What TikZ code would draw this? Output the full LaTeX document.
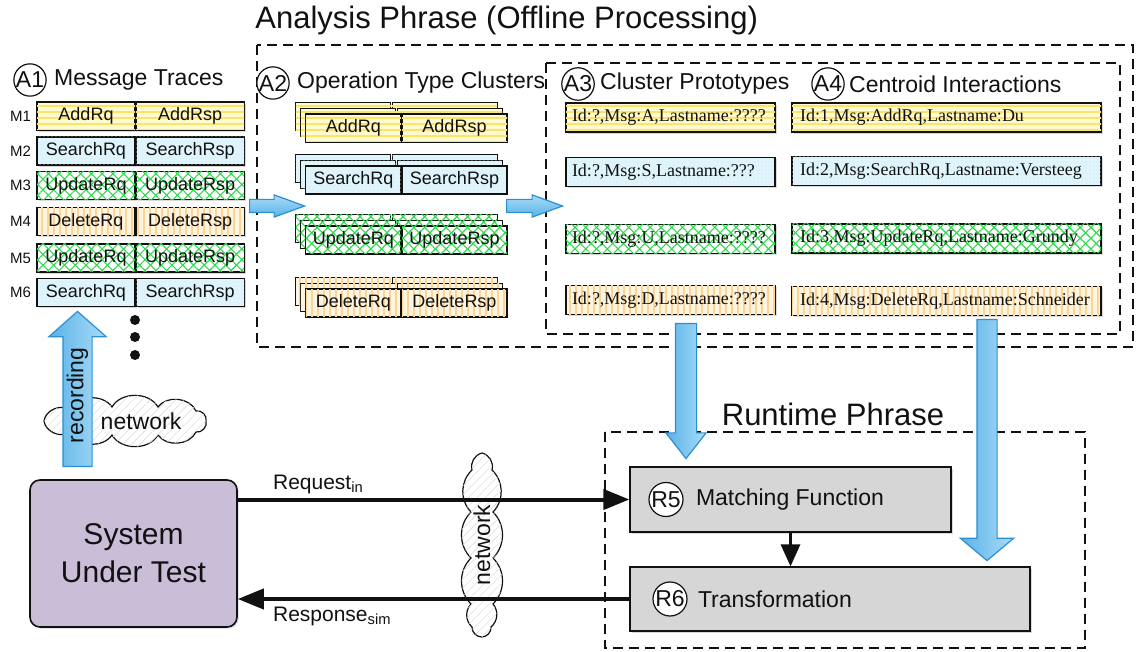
\documentclass[tikz,border=0pt]{standalone}
\usepackage{fontspec}
\setmainfont{Liberation Sans}
\newfontfamily\protofont{Liberation Serif}
\usetikzlibrary{arrows.meta,calc,positioning,shapes.arrows,shadows,patterns.meta}
\definecolor{ink}{HTML}{111111}
\definecolor{yelfill}{HTML}{FFFAD0}
\definecolor{yelline}{HTML}{F9E46E}
\definecolor{bluefill}{HTML}{DCF3FB}
\definecolor{greenline}{HTML}{2ED94C}
\definecolor{orangefill}{HTML}{FFF4E0}
\definecolor{orangeline}{HTML}{F9D596}
\definecolor{procfill}{HTML}{D6D6D6}
\definecolor{sutfill}{HTML}{C9BDD7}
\definecolor{fatlight}{HTML}{A9DCF7}
\definecolor{fatdark}{HTML}{5AB2E8}
\definecolor{fatline}{HTML}{2E8ED2}
\newcommand{\bigsize}{\fontsize{15.5}{18}\selectfont}
\newcommand{\headsize}{\fontsize{11.5}{13.5}\selectfont}
\newcommand{\cellsize}{\fontsize{9}{10.5}\selectfont}
\newcommand{\rowsize}{\fontsize{7.5}{9}\selectfont}
\newcommand{\protosize}{\protofont\fontsize{9}{10.5}\selectfont}
\newcommand{\sutsize}{\fontsize{15}{19}\selectfont}
\tikzset{
 every node/.append style={text=ink,align=center},
 phase/.style={draw=ink,line width=1pt,dash pattern=on 5pt off 3pt},
 head/.style={font=\headsize,inner sep=1pt},
 tag/.style={circle,draw=ink,line width=.6pt,fill=white,inner sep=0pt,minimum size=15pt,font=\headsize},
 rtag/.style={tag,minimum size=17pt},
 rowtag/.style={font=\rowsize,inner sep=1pt},
 lifted/.style={drop shadow={opacity=.3,shadow xshift=.8pt,shadow yshift=-.8pt}},
 cell/.style={draw=ink,line width=.6pt,minimum height=14pt,inner sep=0pt,font=\cellsize},
 row/.style={cell,lifted},
 stack/.style={copy shadow={shadow xshift=-5pt,shadow yshift=5.5pt,draw=ink,line width=.5pt,#1},
               copy shadow={shadow xshift=-2.5pt,shadow yshift=2.75pt,draw=ink,line width=.5pt,#1}},
 yel/.style={fill=yelfill,postaction={pattern={Lines[angle=0,distance=3pt,line width=1.2pt]},pattern color=yelline}},
 blu/.style={fill=bluefill,postaction={pattern={Dots[distance=2pt,radius=.35pt]},pattern color=white}},
 grn/.style={fill=white,postaction={pattern={Lines[angle=45,distance=3.8pt,line width=.55pt]},pattern color=greenline},
   postaction={pattern={Lines[angle=-45,distance=3.8pt,line width=.55pt]},pattern color=greenline}},
 org/.style={fill=orangefill,postaction={pattern={Lines[angle=90,distance=3pt,line width=1.2pt]},pattern color=orangeline}},
 proto/.style={cell,lifted,font=\protosize,minimum height=14.5pt,inner xsep=3pt,align=left,text width=98.5pt},
 centroid/.style={proto,inner xsep=4pt,text width=146.5pt},
 dot/.style={circle,fill=ink,inner sep=0pt,minimum size=5pt},
 fat/.style={single arrow,draw=fatline,line width=.6pt,single arrow head indent=0pt,anchor=tail,minimum width=0pt},
 cloudy/.style={draw=ink,line width=.6pt,fill=white,
   postaction={pattern={Lines[angle=45,distance=3pt,line width=.3pt]},pattern color=black!12}},
 sut/.style={draw=ink,line width=.8pt,fill=sutfill,rounded corners=5pt,font=\sutsize,lifted},
 proc/.style={draw=ink,line width=.6pt,fill=procfill,lifted},
 lbl/.style={font=\fontsize{10.5}{12}\selectfont,inner sep=1pt},
 flow/.style={-{Triangle[length=13pt,width=10pt]},draw=ink,line width=2pt},
 handoff/.style={-{Triangle[length=11pt,width=9.5pt]},draw=ink,line width=1.5pt},
}

\begin{document}
\begin{tikzpicture}[x=.5pt,y=-.5pt]
\useasboundingbox (0,0) rectangle (1136,652);

% phase frames
\draw[phase] (257,45) rectangle (1133,347);
\draw[phase] (546,63) rectangle (1120,334);
\draw[phase] (605,432) rectangle (1085,648);
\node[font=\bigsize,anchor=base west,inner sep=0pt] (offline) at (255,29) {Analysis Phrase (Offline Processing)};
\node[font=\bigsize,anchor=base,inner sep=0pt] (online) at (833,425) {Runtime Phrase};

% A1 message traces
\node[tag] (a1) at (30,80) {A1};
\node[head,right=2.5pt of a1] (traces) {Message Traces};
\node[row,yel,minimum width=49pt] (m1rq) at (86,116) {AddRq};
\node[row,yel,minimum width=54pt,right=0pt of m1rq] (m1rs) {AddRsp};
\node[rowtag,left=1.5pt of m1rq] (m1) {M1};
\node[row,blu,minimum width=49pt] (m2rq) at (86,151) {SearchRq};
\node[row,blu,minimum width=54pt,right=0pt of m2rq] (m2rs) {SearchRsp};
\node[rowtag,left=1.5pt of m2rq] (m2) {M2};
\node[row,grn,minimum width=49pt] (m3rq) at (86,185.5) {UpdateRq};
\node[row,grn,minimum width=54pt,right=0pt of m3rq] (m3rs) {UpdateRsp};
\node[rowtag,left=1.5pt of m3rq] (m3) {M3};
\node[row,org,minimum width=49pt] (m4rq) at (86,221.5) {DeleteRq};
\node[row,org,minimum width=54pt,right=0pt of m4rq] (m4rs) {DeleteRsp};
\node[rowtag,left=1.5pt of m4rq] (m4) {M4};
\node[row,grn,minimum width=49pt] (m5rq) at (86,258) {UpdateRq};
\node[row,grn,minimum width=54pt,right=0pt of m5rq] (m5rs) {UpdateRsp};
\node[rowtag,left=1.5pt of m5rq] (m5) {M5};
\node[row,blu,minimum width=49pt] (m6rq) at (86,292.5) {SearchRq};
\node[row,blu,minimum width=54pt,right=0pt of m6rq] (m6rs) {SearchRsp};
\node[rowtag,left=1.5pt of m6rq] (m6) {M6};
\node[dot] (more1) at (135,320) {};
\node[dot] (more2) at (135,337) {};
\node[dot] (more3) at (135,355) {};

% A2 operation type clusters
\node[tag] (a2) at (273,83) {A2};
\node[head,right=2.5pt of a2] (clusters) {Operation Type Clusters};
\node[cell,yel,stack={yel},minimum width=52.5pt] (c1rs) at (454.5,128) {AddRsp};
\node[cell,yel,stack={yel},minimum width=47.5pt,left=0pt of c1rs] (c1rq) {AddRq};
\node[cell,blu,stack={blu},minimum width=52.5pt] (c2rs) at (454.5,180) {SearchRsp};
\node[cell,blu,stack={blu},minimum width=47.5pt,left=0pt of c2rs] (c2rq) {SearchRq};
\node[cell,grn,stack={grn},minimum width=52.5pt] (c3rs) at (454.5,240) {UpdateRsp};
\node[cell,grn,stack={grn},minimum width=47.5pt,left=0pt of c3rs] (c3rq) {UpdateRq};
\node[cell,org,stack={org},minimum width=52.5pt] (c4rs) at (454.5,303) {DeleteRsp};
\node[cell,org,stack={org},minimum width=47.5pt,left=0pt of c4rs] (c4rq) {DeleteRq};

% A3 cluster prototypes, A4 centroid interactions
\node[tag] (a3) at (578,84) {A3};
\node[head,right=1.5pt of a3] (protos) {Cluster Prototypes};
\node[tag] (a4) at (828,84) {A4};
\node[head,right=1pt of a4] (centroids) {Centroid Interactions};
\node[proto,yel] (p1) at (670.5,117.5) {Id:?,Msg:A,Lastname:????};
\node[proto,blu] (p2) at (670.5,172) {Id:?,Msg:S,Lastname:???};
\node[proto,grn] (p3) at (670.5,239) {Id:?,Msg:U,Lastname:????};
\node[proto,org] (p4) at (670.5,300) {Id:?,Msg:D,Lastname:????};
\node[centroid,yel] (i1) at (946.5,117.5) {Id:1,Msg:AddRq,Lastname:Du};
\node[centroid,blu] (i2) at (946.5,171) {Id:2,Msg:SearchRq,Lastname:Versteeg};
\node[centroid,grn] (i3) at (946.5,238.5) {Id:3,Msg:UpdateRq,Lastname:Grundy};
\node[centroid,org] (i4) at (946.5,301) {Id:4,Msg:DeleteRq,Lastname:Schneider};

% network clouds
\draw[cloudy] (44,421) to[bend left=60] (70,410) to[bend left=60] (112,407) to[bend left=60] (158,407)
  to[bend left=60] (196,411) to[bend left=60] (206,421) to[bend left=60] (196,432) to[bend left=60] (158,435)
  to[bend left=60] (112,435) to[bend left=60] (70,432) to[bend left=60] (44,421) -- cycle;
\node[head] (net1) at (141,421) {network};
\draw[cloudy] (482,453) to[bend left=45] (492,470) to[bend left=45] (493,512) to[bend left=45] (493,558)
  to[bend left=45] (493,604) to[bend left=45] (491,627) to[bend left=45] (482,637) to[bend left=45] (472,627)
  to[bend left=45] (471,604) to[bend left=45] (471,558) to[bend left=45] (471,512) to[bend left=45] (472,470)
  to[bend left=45] (482,453) -- cycle;
\node[head,rotate=90] (net2) at (482,545) {network};

% fat arrows
\node[fat,top color=fatlight,bottom color=fatdark,inner sep=3pt,single arrow head extend=2.25pt,
  single arrow tip angle=40,minimum height=27.5pt] (toclust) at (249,206) {};
\node[fat,top color=fatlight,bottom color=fatdark,inner sep=3pt,single arrow head extend=2.25pt,
  single arrow tip angle=40,minimum height=28pt] (toproto) at (506,206) {};
\node[fat,rotate=90,left color=fatdark,right color=fatlight,font=\headsize,text height=8pt,text depth=2.2pt,
  inner xsep=0pt,inner ysep=1.9pt,single arrow head extend=7pt,single arrow tip angle=97,minimum height=77.5pt] (rec) at (77.5,467) {recording};
\node[fat,rotate=-90,left color=fatdark,right color=fatlight,inner sep=5pt,single arrow head extend=4.75pt,
  single arrow tip angle=76,minimum height=67.5pt] (tomatch) at (686,323) {};
\node[fat,rotate=-90,left color=fatdark,right color=fatlight,inner sep=4.75pt,single arrow head extend=8.25pt,
  single arrow tip angle=100,minimum height=120.5pt] (totrans) at (987,319) {};

% runtime
\node[sut,minimum width=103.5pt,minimum height=73.5pt] (sut) at (133.5,553.5) {System\\Under Test};
\node[proc,minimum width=160.5pt,minimum height=32.5pt] (r5) at (790.5,499.5) {};
\node[rtag,right=9.5pt of r5.west] (r5c) {R5};
\node[head,right=5pt of r5c] (r5l) {Matching Function};
\node[proc,minimum width=200pt,minimum height=32pt] (r6) at (830,599) {};
\node[rtag,right=11.5pt of r6.west] (r6c) {R6};
\node[head,right=4pt of r6c] (r6l) {Transformation};

\draw[flow] (sut.east |- r5.west) -- node[lbl,pos=.08,anchor=south west,yshift=1pt] {Request\textsubscript{in}} (r5.west);
\draw[flow] (r6.west) -- node[lbl,pos=.92,anchor=north west,yshift=-2pt] {Response\textsubscript{sim}} (sut.east |- r6.west);
\draw[handoff] (r5.south) -- (r5.south |- r6.north);

\end{tikzpicture}
\end{document}
